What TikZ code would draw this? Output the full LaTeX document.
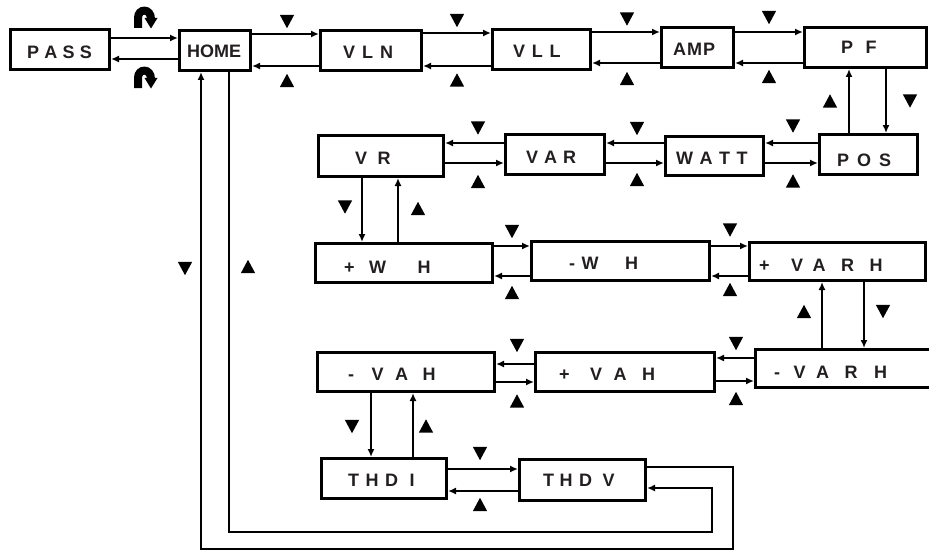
\documentclass[tikz,border=0pt]{standalone}
\usepackage{fontspec}
\setmainfont{Liberation Sans}
\usetikzlibrary{arrows.meta}
\definecolor{txtc}{HTML}{231F20}
\newcommand\g[1]{\hspace{#1pt}}
\newcommand\bx[5]{\node[box, minimum width={(#4-#2-3)*1pt}, minimum height={(#5-#3-3)*1pt}] (#1) at ({(#2+#4)/2},{(#3+#5)/2}) {};}
\begin{document}
\begin{tikzpicture}[x=1pt,y=-1pt,
  box/.style={draw=black, line width=3pt, fill=white, inner sep=0pt},
  lbl/.style={anchor=base west, inner sep=0pt, font=\fontsize{18}{20}\selectfont\bfseries, text=txtc},
  arr/.style={line width=2.2pt, -{Latex[length=8pt,width=7pt]}},
  loopln/.style={line width=2.5pt, -{Latex[length=8pt,width=7pt]}},
  tdn/.pic={\fill (-7.2,-6.7) -- (7.2,-6.7) -- (0,6.7) -- cycle;},
  tup/.pic={\fill (-7.2,6.7) -- (7.2,6.7) -- (0,-6.7) -- cycle;},
  hookarr/.pic={\draw[line width=8pt] (0,18) -- (0,8) .. controls (0,-2) and (13,-2) .. (13,9);
                \fill (6.5,8) -- (19.5,8) -- (13,18.5) -- cycle;}
]
\useasboundingbox (0,0) rectangle (929,551);
\fill[white] (0,0) rectangle (929,551);
\clip (0,0) rectangle (929,551);

% boxes
\bx{pass}{9}{28}{111}{71}
\bx{home}{178}{29}{252}{72}
\bx{vln}{319}{29}{423}{72}
\bx{vll}{491}{28}{592}{71}
\bx{amp}{660}{26}{735}{69}
\bx{pf}{803}{26}{928}{69}
\bx{pos}{818}{133}{919}{176}
\bx{watt}{664}{135}{765}{177}
\bx{var}{504}{133}{606}{176}
\bx{vr}{317}{134}{445}{178}
\bx{pwh}{314}{242}{494}{284}
\bx{mwh}{530}{240}{711}{282}
\bx{pvarh}{748}{241}{927}{282}
\bx{mvarh}{754}{348}{932}{389}
\bx{mvah}{316}{351}{496}{393}
\bx{pvah}{534}{351}{716}{393}
\bx{thdi}{320}{457}{448}{500}
\bx{thdv}{518}{458}{647}{502}

% labels
\node[lbl] (tpass) at (27,59) {P\g{5.2}A\g{5.2}S\g{5.2}S};
\node[lbl] (thome) at (187,58) {HOME};
\node[lbl] (tvln) at (343,59) {V\g{7}L\g{7}N};
\node[lbl] (tvll) at (513,58) {V\g{6.7}L\g{6.7}L};
\node[lbl] (tamp) at (673,56) {A\g{1}M\g{1}P};
\node[lbl] (tpf) at (841,54) {P\g{12.5}F};
\node[lbl] (tpos) at (837,166) {P\g{8}O\g{8}S};
\node[lbl] (twatt) at (676,164) {W\g{6.5}A\g{6.5}T\g{6.5}T};
\node[lbl] (tvar) at (526,163) {V\g{6}A\g{6}R};
\node[lbl] (tvr) at (355,164) {V\g{10.5}R};
\node[lbl] (tpwh) at (344,273) {+\g{14.5}W\g{31.5}H};
\node[lbl] (tmwh) at (569,269) {-\g{6.5}W\g{26.5}H};
\node[lbl] (tpvarh) at (759,271) {+\g{21.5}V\g{9.5}A\g{15.5}R\g{15.5}H};
\node[lbl] (tmvarh) at (774,378) {-\g{13.5}V\g{10.5}A\g{15.5}R\g{16.5}H};
\node[lbl] (tmvah) at (348,380) {-\g{17.5}V\g{11.5}A\g{14.5}H};
\node[lbl] (tpvah) at (559,380) {+\g{20.5}V\g{11.5}A\g{15.5}H};
\node[lbl] (tthdi) at (348,486) {T\g{6.5}H\g{6.5}D\g{11.5}I};
\node[lbl] (tthdv) at (543,486) {T\g{5.5}H\g{6.5}D\g{10.5}V};

% horizontal connectors
\draw[arr] (pass.east |- 0,38) -- (home.west |- 0,38);
\draw[arr] (home.west |- 0,59) -- (pass.east |- 0,59);
\draw[arr] (home.east |- 0,34) -- (vln.west |- 0,34);
\draw[arr] (vln.west |- 0,66) -- (home.east |- 0,66);
\draw[arr] (vln.east |- 0,33) -- (vll.west |- 0,33);
\draw[arr] (vll.west |- 0,66) -- (vln.east |- 0,66);
\draw[arr] (vll.east |- 0,32) -- (amp.west |- 0,32);
\draw[arr] (amp.west |- 0,63) -- (vll.east |- 0,63);
\draw[arr] (amp.east |- 0,32) -- (pf.west |- 0,32);
\draw[arr] (pf.west |- 0,63) -- (amp.east |- 0,63);
\draw[arr] (pos.west |- 0,143) -- (watt.east |- 0,143);
\draw[arr] (watt.east |- 0,163) -- (pos.west |- 0,163);
\draw[arr] (watt.west |- 0,143) -- (var.east |- 0,143);
\draw[arr] (var.east |- 0,163) -- (watt.west |- 0,163);
\draw[arr] (var.west |- 0,143) -- (vr.east |- 0,143);
\draw[arr] (vr.east |- 0,163) -- (var.west |- 0,163);
\draw[arr] (pwh.east |- 0,246) -- (mwh.west |- 0,246);
\draw[arr] (mwh.west |- 0,276) -- (pwh.east |- 0,276);
\draw[arr] (mwh.east |- 0,246) -- (pvarh.west |- 0,246);
\draw[arr] (pvarh.west |- 0,276) -- (mwh.east |- 0,276);
\draw[arr] (mvarh.west |- 0,358) -- (pvah.east |- 0,358);
\draw[arr] (pvah.east |- 0,381) -- (mvarh.west |- 0,381);
\draw[arr] (pvah.west |- 0,364) -- (mvah.east |- 0,364);
\draw[arr] (mvah.east |- 0,382) -- (pvah.west |- 0,382);
\draw[arr] (thdi.east |- 0,469) -- (thdv.west |- 0,469);
\draw[arr] (thdv.west |- 0,491) -- (thdi.east |- 0,491);

% vertical connectors
\draw[arr] (pos.north -| 849,0) -- (pf.south -| 849,0);
\draw[arr] (pf.south -| 886,0) -- (pos.north -| 886,0);
\draw[arr] (vr.south -| 362,0) -- (pwh.north -| 362,0);
\draw[arr] (pwh.north -| 398,0) -- (vr.south -| 398,0);
\draw[arr] (mvarh.north -| 822,0) -- (pvarh.south -| 822,0);
\draw[arr] (pvarh.south -| 864,0) -- (mvarh.north -| 864,0);
\draw[arr] (mvah.south -| 371,0) -- (thdi.north -| 371,0);
\draw[arr] (thdi.north -| 413,0) -- (mvah.south -| 413,0);

% loops
\draw[loopln] (home.south -| 229,0) |- (712,532) |- (thdv.east |- 0,488);
\draw[loopln] (thdv.east |- 0,467) -| (733,549) -| (home.south -| 201,0);

% triangles
\pic at (287,21.5) {tdn}; \pic at (287,80.5) {tup};
\pic at (457,20.5) {tdn}; \pic at (457,80) {tup};
\pic at (627,19) {tdn}; \pic at (627,78.5) {tup};
\pic at (769,17.5) {tdn}; \pic at (769,76.5) {tup};
\pic at (830,101) {tup}; \pic at (910,101) {tdn};
\pic at (793,126) {tdn}; \pic at (793,181) {tup};
\pic at (637,128.5) {tdn}; \pic at (637,179.5) {tup};
\pic at (478,128) {tdn}; \pic at (478,181.5) {tup};
\pic at (345,207) {tdn}; \pic at (418,208.5) {tup};
\pic at (512,231.5) {tdn}; \pic at (512,292.5) {tup};
\pic at (730,230) {tdn}; \pic at (730,289.5) {tup};
\pic at (804,311.5) {tup}; \pic at (883,311.5) {tdn};
\pic at (736,343.5) {tdn}; \pic at (736,398.5) {tup};
\pic at (517,345.5) {tdn}; \pic at (517,401) {tup};
\pic at (352,426.5) {tdn}; \pic at (426,426) {tup};
\pic at (480,453.5) {tdn}; \pic at (480,504.5) {tup};
\pic at (185,268.5) {tdn}; \pic at (248,266.5) {tup};

% hook arrows
\pic at (138,10) {hookarr};
\pic at (138,70) {hookarr};
\end{tikzpicture}
\end{document}
